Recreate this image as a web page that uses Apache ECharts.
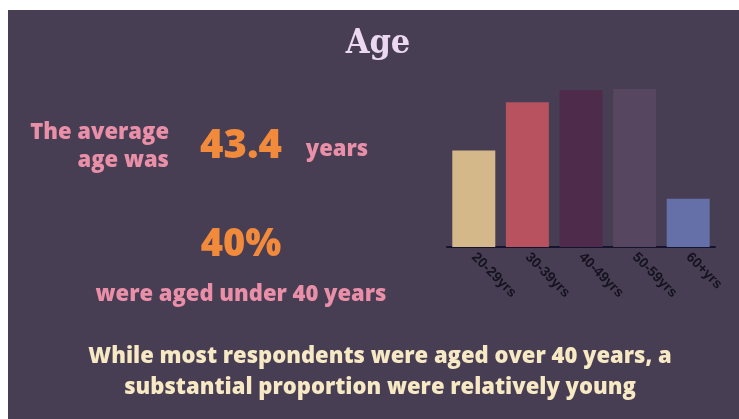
<!DOCTYPE html>
<html>
<head>
<meta charset="utf-8">
<script src="https://cdn.jsdelivr.net/npm/echarts@6/dist/echarts.min.js"></script>
<style>
html,body{margin:0;padding:0;background:#ffffff;}
#chart{width:739px;height:419px;}
</style>
</head>
<body>
<div id="chart"></div>
<script>
var categories = ['20-29yrs', '30-39yrs', '40-49yrs', '50-59yrs', '60+yrs'];
var shares = [16, 24, 26, 26.2, 8];
var barColors = ['#d4b88a', '#b8525f', '#4e2a4b', '#56465f', '#6570a8'];
var titleText = 'Age';
var avgLine1 = 'The average';
var avgLine2 = 'age was';
var avgValue = '43.4';
var avgUnit = 'years';
var underValue = '40%';
var underText = 'were aged under 40 years';
var footerText = 'While most respondents were aged over 40 years, a\nsubstantial proportion were relatively young';

var chart = echarts.init(document.getElementById('chart'));
var roundFont = '"Open Sans", "Noto Sans", sans-serif';
chart.setOption({
  backgroundColor: '#ffffff',
  animation: false,
  grid: {left: 447, right: 24, top: 66, bottom: 172},
  xAxis: {
    type: 'category',
    data: categories,
    axisLine: {lineStyle: {color: '#16132e', width: 2}},
    axisTick: {show: false},
    axisLabel: {rotate: -45, color: '#15121f', fontSize: 14, fontWeight: 'bold', fontFamily: 'Liberation Sans, Arial, sans-serif', margin: 8, interval: 0}
  },
  yAxis: {type: 'value', min: 0, max: 30, show: false, splitLine: {show: false}},
  series: [{
    type: 'bar',
    data: shares.map(function (v, i) { return {value: v, itemStyle: {color: barColors[i]}}; }),
    barWidth: 43
  }],
  graphic: [
    {type: 'rect', z: -10, shape: {x: 8, y: 10, width: 731, height: 409}, style: {fill: '#483e54'}},
    {type: 'text', x: 378, y: 44, style: {text: titleText, fill: '#ecd8f2', font: 'bold 34px "DejaVu Serif Condensed", "DejaVu Serif", serif', align: 'center', verticalAlign: 'middle'}},
    {type: 'text', x: 169, y: 133, style: {text: avgLine1, fill: '#ea8fa8', font: '800 22px ' + roundFont, align: 'right', verticalAlign: 'middle'}},
    {type: 'text', x: 169, y: 161, style: {text: avgLine2, fill: '#ea8fa8', font: '800 22px ' + roundFont, align: 'right', verticalAlign: 'middle'}},
    {type: 'text', x: 241, y: 147, style: {text: avgValue, fill: '#f28a3c', font: '800 40px ' + roundFont, align: 'center', verticalAlign: 'middle'}},
    {type: 'text', x: 337, y: 150, style: {text: avgUnit, fill: '#ea8fa8', font: '800 22px ' + roundFont, align: 'center', verticalAlign: 'middle'}},
    {type: 'text', x: 241, y: 245, style: {text: underValue, fill: '#f28a3c', font: '800 38px ' + roundFont, align: 'center', verticalAlign: 'middle'}},
    {type: 'text', x: 241, y: 295, style: {text: underText, fill: '#ea8fa8', font: '800 22px ' + roundFont, align: 'center', verticalAlign: 'middle'}},
    {type: 'text', x: 380, y: 372, style: {text: footerText, fill: '#f6e9c4', font: '800 22px ' + roundFont, align: 'center', verticalAlign: 'middle', lineHeight: 31}}
  ]
});
</script>
</body>
</html>
